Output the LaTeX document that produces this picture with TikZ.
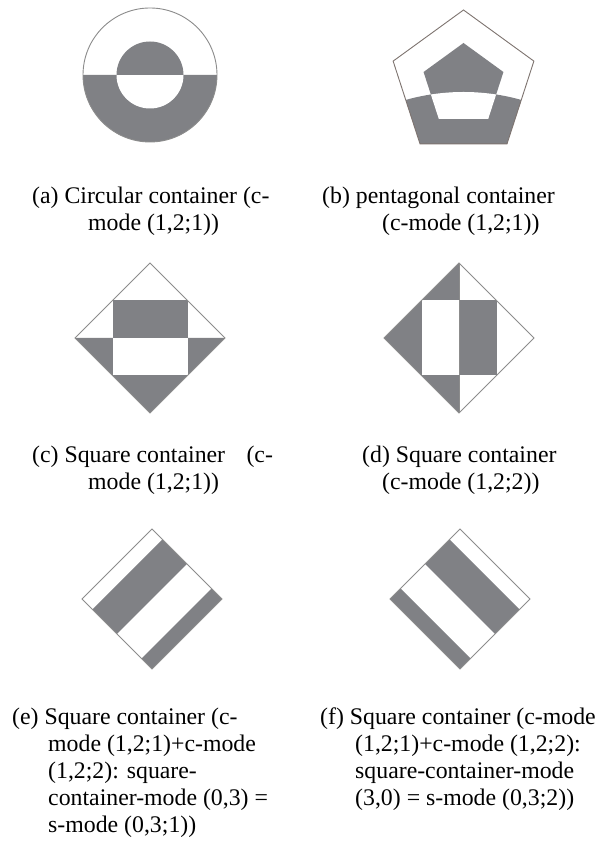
\documentclass[tikz,border=0pt]{standalone}
\usepackage{fontspec}
\setmainfont{Liberation Serif}
\usetikzlibrary{calc}
\definecolor{fillg}{HTML}{808185}
\definecolor{lineg}{HTML}{8C8C8C}
\definecolor{pentl}{HTML}{7E7470}
\tikzset{
  gfill/.style={fill=fillg},
  wfill/.style={fill=white},
  outl/.style={draw=lineg, line width=0.9pt},
  captext/.style={anchor=base west, inner sep=0pt, font=\fontsize{23.8}{26}\selectfont}
}
\begin{document}
\begin{tikzpicture}[x=1pt,y=1pt]
\useasboundingbox[fill=white] (0,0) rectangle (606,843);

% (a) circular container
\coordinate (ac) at (150,768);
\fill[gfill] (83,768) arc[start angle=180,end angle=360,radius=67] -- cycle;
\fill[wfill] (116.5,768) arc[start angle=180,end angle=360,radius=33.5] -- cycle;
\fill[gfill] (116.5,768) arc[start angle=180,end angle=0,radius=33.5] -- cycle;
\draw[outl] (ac) circle[radius=67];

% (b) pentagonal container
\coordinate (bc) at (463.5,759);
\coordinate (bi) at (463.5,758);
\coordinate (barc) at (463.5,538.2);
\begin{scope}
  \clip ($(bc)+(90:74)$) -- ($(bc)+(162:74)$) -- ($(bc)+(234:74)$) -- ($(bc)+(306:74)$) -- ($(bc)+(18:74)$) -- cycle;
  \fill[gfill] (barc) circle[radius=212.8];
\end{scope}
\fill[gfill] ($(bi)+(90:42)$) -- ($(bi)+(162:42)$) -- ($(bi)+(234:42)$) -- ($(bi)+(306:42)$) -- ($(bi)+(18:42)$) -- cycle;
\begin{scope}
  \clip (barc) circle[radius=212.8];
  \fill[wfill] ($(bi)+(90:42)$) -- ($(bi)+(162:42)$) -- ($(bi)+(234:42)$) -- ($(bi)+(306:42)$) -- ($(bi)+(18:42)$) -- cycle;
\end{scope}
\draw[draw=pentl, line width=0.9pt] ($(bc)+(90:74)$) -- ($(bc)+(162:74)$) -- ($(bc)+(234:74)$) -- ($(bc)+(306:74)$) -- ($(bc)+(18:74)$) -- cycle;

% (c) square container
\fill[gfill] (75,505) -- (225,505) -- (150,430) -- cycle;
\fill[wfill] (112.5,467.5) rectangle (187.5,505);
\fill[gfill] (112.5,505) rectangle (187.5,542.5);
\draw[outl] (150,580) -- (75,505) -- (150,430) -- (225,505) -- cycle;

% (d) square container
\fill[gfill] (459,580) -- (384,505) -- (459,430) -- cycle;
\fill[wfill] (421.5,467.5) rectangle (459,542.5);
\fill[gfill] (459,467.5) rectangle (496.5,542.5);
\draw[outl] (459,580) -- (384,505) -- (459,430) -- (534,505) -- cycle;
\draw[outl] (459,580) -- (459,430);

% (e) square container, stripes
\begin{scope}[shift={(82,244)}, x={(70pt,-70pt)}, y={(70pt,70pt)}]
  \fill[gfill] (0.15,0) -- (0.5,0) -- (0.5,1) -- (0.15,1) -- cycle;
  \fill[gfill] (0.85,0) -- (1,0) -- (1,1) -- (0.85,1) -- cycle;
  \draw[outl] (0,0) -- (1,0) -- (1,1) -- (0,1) -- cycle;
\end{scope}

% (f) square container, stripes
\begin{scope}[shift={(460,314)}, x={(-70pt,-70pt)}, y={(70pt,-70pt)}]
  \fill[gfill] (0.15,0) -- (0.5,0) -- (0.5,1) -- (0.15,1) -- cycle;
  \fill[gfill] (0.85,0) -- (1,0) -- (1,1) -- (0.85,1) -- cycle;
  \draw[outl] (0,0) -- (1,0) -- (1,1) -- (0,1) -- cycle;
\end{scope}

% captions
\node[captext] (a1) at (32,639) {(a) Circular container (c-};
\node[captext] (a2) at (88,612) {mode (1,2;1))};
\node[captext] (b1) at (322,639) {(b) pentagonal container};
\node[captext] (b2) at (382,612) {(c-mode (1,2;1))};
\node[captext] (c1) at (32,380) {(c) Square container\hspace{0.65em} (c-};
\node[captext] (c2) at (88,353) {mode (1,2;1))};
\node[captext] (d1) at (362,380) {(d) Square container};
\node[captext] (d2) at (382,353) {(c-mode (1,2;2))};
\node[captext] (e1) at (12,118) {(e) Square container (c-};
\node[captext] (e2) at (48,91) {mode (1,2;1)+c-mode};
\node[captext] (e3) at (48,64) {(1,2;2): square-};
\node[captext] (e4) at (48,37) {container-mode (0,3) =};
\node[captext] (e5) at (48,10) {s-mode (0,3;1))};
\node[captext] (f1) at (320,118) {(f) Square container (c-mode};
\node[captext] (f2) at (355,91) {(1,2;1)+c-mode (1,2;2):};
\node[captext] (f3) at (355,64) {square-container-mode};
\node[captext] (f4) at (355,37) {(3,0) = s-mode (0,3;2))};
\end{tikzpicture}
\end{document}
